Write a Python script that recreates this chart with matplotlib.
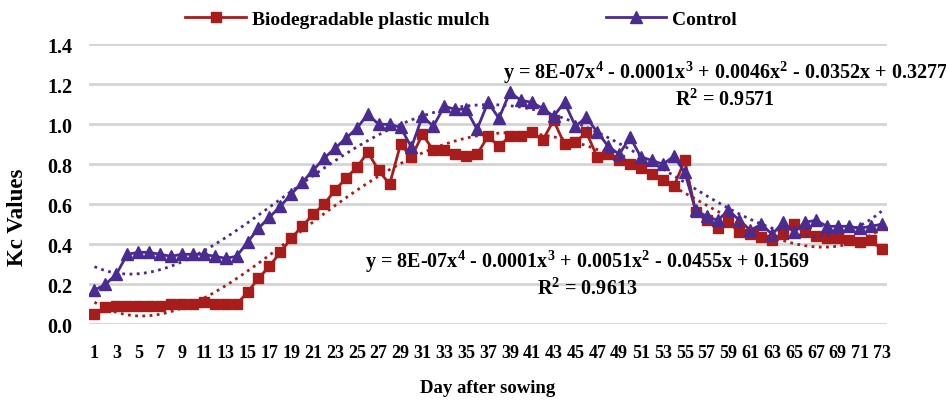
import numpy as np
import matplotlib
matplotlib.use("Agg")
import matplotlib.pyplot as plt

# dias apos a semeadura
dias = np.arange(1, 74)

# Kc - mulch plastico biodegradavel
kc_mulch = [0.05, 0.085, 0.09, 0.09, 0.09, 0.09, 0.09, 0.10, 0.10, 0.10,
            0.11, 0.10, 0.10, 0.10, 0.16, 0.23, 0.29, 0.36, 0.43, 0.49,
            0.55, 0.60, 0.67, 0.73, 0.785, 0.86, 0.77, 0.70, 0.90, 0.835,
            0.95, 0.87, 0.87, 0.85, 0.84, 0.85, 0.94, 0.89, 0.94, 0.94,
            0.96, 0.92, 1.02, 0.90, 0.91, 0.96, 0.835, 0.85, 0.82, 0.80,
            0.78, 0.75, 0.72, 0.69, 0.82, 0.56, 0.52, 0.48, 0.51, 0.46,
            0.45, 0.435, 0.42, 0.45, 0.50, 0.46, 0.44, 0.43, 0.43, 0.42,
            0.41, 0.42, 0.375]

# Kc - controle
kc_controle = [0.17, 0.20, 0.25, 0.35, 0.36, 0.36, 0.35, 0.34, 0.35, 0.35,
               0.35, 0.34, 0.33, 0.34, 0.41, 0.48, 0.535, 0.59, 0.65, 0.71,
               0.77, 0.83, 0.88, 0.93, 0.98, 1.05, 1.00, 1.00, 0.985, 0.885,
               1.04, 0.99, 1.09, 1.075, 1.075, 0.975, 1.11, 1.03, 1.16, 1.12,
               1.11, 1.08, 1.04, 1.11, 0.99, 1.035, 0.96, 0.89, 0.85, 0.935,
               0.835, 0.82, 0.80, 0.84, 0.76, 0.57, 0.54, 0.52, 0.57, 0.52,
               0.47, 0.50, 0.45, 0.51, 0.46, 0.51, 0.52, 0.49, 0.49, 0.49,
               0.48, 0.49, 0.50]

eq_controle = "y = 8E-07x$^4$ - 0.0001x$^3$ + 0.0046x$^2$ - 0.0352x + 0.3277\nR$^2$ = 0.9571"
eq_mulch = "y = 8E-07x$^4$ - 0.0001x$^3$ + 0.0051x$^2$ - 0.0455x + 0.1569\nR$^2$ = 0.9613"

vermelho = "#A81C1C"
roxo = "#4A2B8F"

plt.rcParams['font.family'] = ['Liberation Serif', 'DejaVu Serif']
plt.rcParams['mathtext.fontset'] = 'custom'
plt.rcParams['mathtext.rm'] = 'Liberation Serif:bold'

fig = plt.figure(figsize=(9.46, 4.02), dpi=100)
ax = fig.add_axes([89/946, 1 - 325.3/402, 798/946, 280/402])

l1, = ax.plot(dias, kc_mulch, color=vermelho, marker='s', markersize=7,
              linewidth=2, label="Biodegradable plastic mulch", zorder=3)
l2, = ax.plot(dias, kc_controle, color=roxo, marker='^', markersize=8,
              linewidth=2, label="Control", zorder=4)

# linhas de tendencia polinomial (ordem 4)
xx = np.linspace(1, 73, 300)
p1 = np.polyfit(dias, kc_mulch, 4)
p2 = np.polyfit(dias, kc_controle, 4)
ax.plot(xx, np.polyval(p1, xx), color=vermelho, linestyle=(0, (1, 1.6)), linewidth=2, zorder=5)
ax.plot(xx, np.polyval(p2, xx), color=roxo, linestyle=(0, (1, 1.6)), linewidth=2, zorder=5)

ax.set_xlim(0.5, 73.5)
ax.set_ylim(0, 1.4)
ax.set_yticks(np.arange(0, 1.41, 0.2))
ax.set_yticklabels(["%.1f" % v for v in np.arange(0, 1.41, 0.2)])
ax.set_xticks(dias[::2])
ax.tick_params(axis='x', length=0, labelsize=13, pad=14)
ax.tick_params(axis='y', length=0, labelsize=14.5, pad=12)
for t in ax.get_xticklabels() + ax.get_yticklabels():
    t.set_fontweight('bold')
ax.grid(axis='y', color='#d4d4d4', linewidth=2)
ax.set_axisbelow(True)
for s in ax.spines.values():
    s.set_visible(False)

ax.set_xlabel("Day after sowing", fontsize=13.5, fontweight='bold', labelpad=13)
ax.set_ylabel("Kc Values", fontsize=16.5, fontweight='bold')
ax.yaxis.set_label_coords(-61/798, (325.3 - 217)/280)

fig.text(725/946, 1 - 85/402, eq_controle, ha='center', va='center',
         fontsize=14.5, fontweight='bold', linespacing=1.15)
fig.text(587/946, 1 - 274/402, eq_mulch, ha='center', va='center',
         fontsize=14.5, fontweight='bold', linespacing=1.15)

fig.legend(handles=[l1, l2], loc='center', bbox_to_anchor=(461/946, 1 - 20/402),
           ncol=2, frameon=False, handlelength=3.1, handletextpad=0.3,
           columnspacing=6, prop={'weight': 'bold', 'size': 14})

fig.savefig("out.png", dpi=100)
